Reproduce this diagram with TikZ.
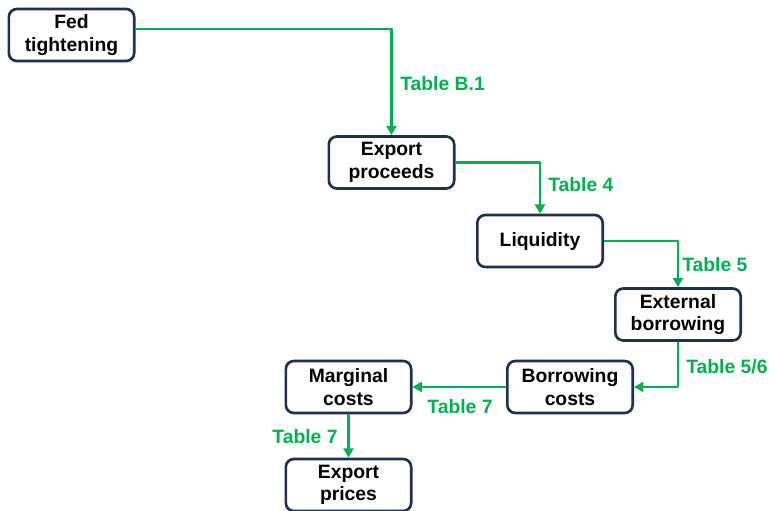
\documentclass[tikz,border=0pt]{standalone}
\usepackage{fontspec}
\setmainfont{Liberation Sans}
\usetikzlibrary{arrows.meta}

\definecolor{boxnavy}{HTML}{1F3050}
\definecolor{linkgreen}{HTML}{00B050}

\begin{document}
\begin{tikzpicture}[x=0.75pt, y=-0.75pt, >={Triangle[width=7.5pt,length=7pt]}, line join=round,
  stage/.style={draw=boxnavy, line width=2pt, rounded corners=6pt, fill=white,
    minimum width=94pt, minimum height=39pt, align=center, inner sep=1pt,
    font=\fontsize{14.5}{17}\selectfont\bfseries},
  flow/.style={->, draw=linkgreen, line width=1.6pt},
  tab/.style={text=linkgreen, inner sep=0pt, font=\fontsize{14.5}{17}\selectfont\bfseries}]
  \useasboundingbox (0,0) rectangle (769,511);
  % stages of the transmission chain
  \node[stage] (fed) at (71.5,35) {Fed\\tightening};
  \node[stage] (proceeds) at (391.5,162.5) {Export\\proceeds};
  \node[stage] (liquidity) at (540,241) {Liquidity};
  \node[stage] (external) at (678,314.5) {External\\borrowing};
  \node[stage] (borrowcost) at (570,387) {Borrowing\\costs};
  \node[stage] (marginal) at (348.5,387) {Marginal\\costs};
  \node[stage] (prices) at (348.5,485) {Export\\prices};
  % links
  \draw[flow] ([yshift=4.5pt]fed.east) -| (proceeds.north);
  \draw[flow] (proceeds.east) -| (liquidity.north);
  \draw[flow] (liquidity.east) -| (external.north);
  \draw[flow] (external.south) |- (borrowcost.east);
  \draw[flow] (borrowcost.west) -- (marginal.east);
  \draw[flow] (marginal.south) -- (prices.north);
  % table references
  \node[tab, right] (tb1) at (400,84) {Table B.1};
  \node[tab, right] (t4) at (548,185) {Table 4};
  \node[tab, right] (t5) at (682,265) {Table 5};
  \node[tab, right] (t56) at (686,367) {Table 5/6};
  \node[tab] (t7a) at (460,407) {Table 7};
  \node[tab] (t7b) at (305,437) {Table 7};
\end{tikzpicture}
\end{document}
